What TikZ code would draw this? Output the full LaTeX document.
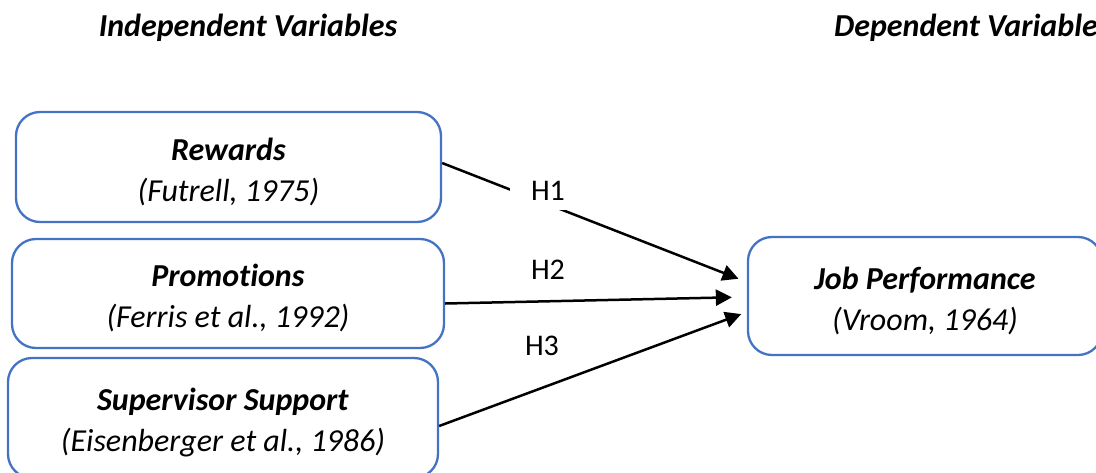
\documentclass[tikz,border=0pt]{standalone}
\usepackage{fontspec}
\setmainfont{Carlito}[Ligatures=NoCommon]
\usetikzlibrary{arrows.meta,positioning}
\definecolor{boxBlue}{HTML}{4472C4}
\newcommand{\toppad}{\rule{0pt}{32pt}}

\begin{document}
\begin{tikzpicture}[
  x=1pt, y=-1pt,
  var/.style={draw=boxBlue, line width=2.3pt, rounded corners=24pt, align=center,
    font=\fontsize{32}{41}\selectfont, inner sep=0pt},
  head/.style={font=\fontsize{32}{40}\selectfont\bfseries\itshape, inner sep=0pt},
  lab/.style={font=\fontsize{30}{36}\selectfont, inner sep=0pt},
  hyp/.style={draw, line width=2.5pt, -{Triangle[length=16pt,width=16pt]}}
]
\useasboundingbox (0,0) rectangle (1096,472);
% headings
\node[head] (ivhead) at (248,28) {Independent Variables};
\node[head, anchor=west] (dvhead) at (834,28) {Dependent Variable};
% independent variables
\node[var, minimum width=425pt, minimum height=110pt] (rw) at (228.5,167)
  {\toppad\textbf{\textit{Rewards}}\\\textit{(Futrell, 1975)}};
\node[var, minimum width=432pt, minimum height=109pt] (pr) at (228,293.5)
  {\toppad\textbf{\textit{Promotions}}\\\textit{(Ferris et al., 1992)}};
\node[var, minimum width=430pt, minimum height=120pt] (su) at (223,418)
  {\toppad\textbf{\textit{Supervisor Support}}\\\textit{(Eisenberger et al., 1986)}};
% dependent variable
\node[var, minimum width=354pt, minimum height=118pt] (jp) at (925,296)
  {\toppad\textbf{\textit{Job Performance}}\\\textit{(Vroom, 1964)}};
% hypotheses
\draw[hyp, shorten >=9pt] ([yshift=4pt]rw.east) -- ([yshift=14pt]jp.west);
\draw[hyp, shorten >=15pt] ([yshift=-10pt]pr.east) -- ([yshift=-1pt]jp.west);
\draw[hyp, shorten >=6pt] ([yshift=-8pt]su.east) -- ([yshift=-16pt]jp.west);
\node[lab, fill=white, inner xsep=21pt, minimum height=38pt] (h1) at (548,191) {H1};
\node[lab] (h2) at (548,270) {H2};
\node[lab] (h3) at (542,346) {H3};
\end{tikzpicture}
\end{document}
